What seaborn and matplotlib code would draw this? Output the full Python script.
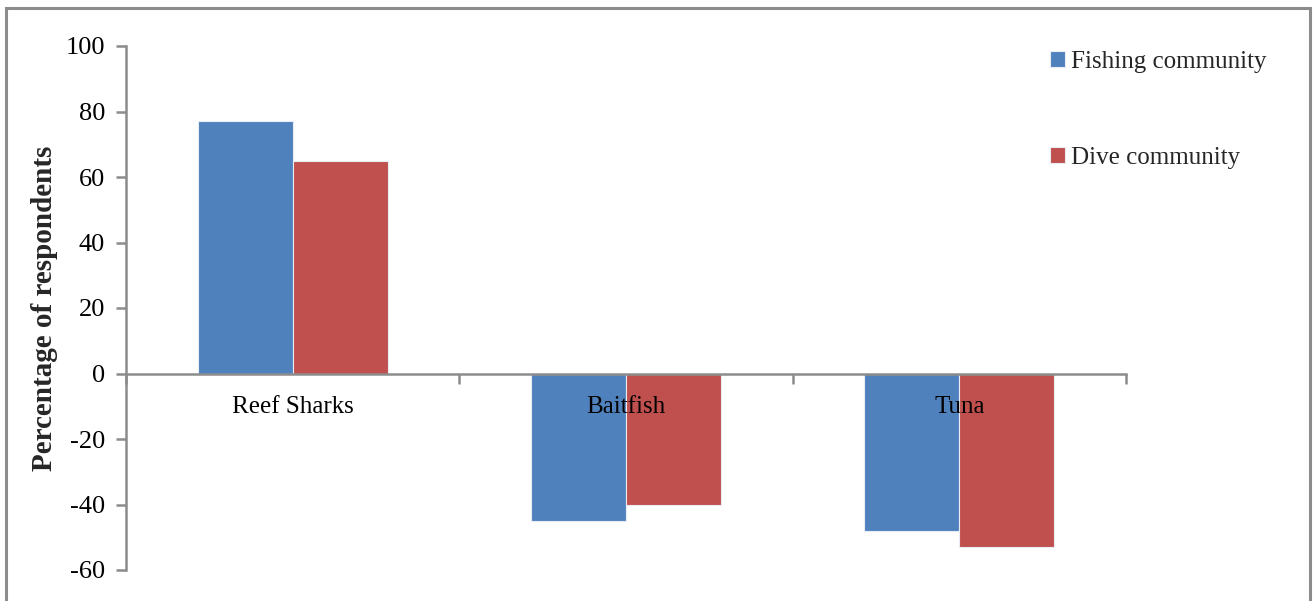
import matplotlib
matplotlib.use("Agg")
import matplotlib.pyplot as plt
from matplotlib.patches import Rectangle
import pandas as pd
import seaborn as sns

categories = ["Reef Sharks", "Baitfish", "Tuna"]
groups = ["Fishing community", "Dive community"]
fishing = [77, -45, -48]
dive = [65, -40, -53]
y_ticks = [-60, -40, -20, 0, 20, 40, 60, 80, 100]

colors = {"Fishing community": "#4F81BD", "Dive community": "#C0504D"}
axis_grey = "#8C8C8C"

df = pd.DataFrame({
    "Species": categories * 2,
    "Group": [groups[0]] * len(categories) + [groups[1]] * len(categories),
    "Percent": fishing + dive,
})

sns.set_theme(style="white")
plt.rcParams["font.family"] = ["Liberation Serif", "DejaVu Serif"]

fig = plt.figure(figsize=(13.16, 6.01), dpi=100)
ax = fig.add_axes([126 / 1316, 1 - 570 / 601, 1000 / 1316, 524 / 601])

sns.barplot(data=df, x="Species", y="Percent", hue="Group", order=categories,
            hue_order=groups, palette=colors, width=0.57, ax=ax,
            edgecolor="#E8ECF4", linewidth=0.8, saturation=1, legend=True)

# axis lines and category labels sit on top of the bars
ax.set_axisbelow(False)

ax.set_xlim(-0.5, len(categories) - 0.5)
ax.set_ylim(-60, 100)
ax.set_yticks(y_ticks)
ax.set_yticklabels([str(v) for v in y_ticks], fontsize=19, color="black")

# category axis crosses at zero, with ticks between categories
for side in ("top", "right"):
    ax.spines[side].set_visible(False)
ax.spines["bottom"].set_position(("data", 0))
for side in ("left", "bottom"):
    ax.spines[side].set_color(axis_grey)
    ax.spines[side].set_linewidth(1.8)
    ax.spines[side].set_zorder(3)

ax.set_xticks(range(len(categories)))
ax.set_xticklabels(categories, fontsize=18, color="black")
ax.tick_params(axis="x", which="major", length=0, pad=16)
ax.set_xticks([i - 0.5 for i in range(len(categories) + 1)], minor=True)
ax.tick_params(axis="x", which="minor", length=7, width=1.8, color=axis_grey,
               direction="out", bottom=True)
ax.tick_params(axis="y", length=7, width=1.8, color=axis_grey, direction="out",
               left=True, pad=8)

ax.set_xlabel("")
ax.set_ylabel("Percentage of respondents", fontsize=21, fontweight="bold")
ax.yaxis.set_label_coords(-68 / 1000, 0.5)

handles, labels = ax.get_legend_handles_labels()
ax.legend(handles, labels, loc="upper left",
          bbox_to_anchor=(1040 / 1316, 1 - 41 / 601),
          bbox_transform=fig.transFigure, frameon=False, fontsize=18,
          handlelength=0.6, handleheight=0.6, handletextpad=0.25,
          labelspacing=2.95, borderaxespad=0)

# outer chart frame
fig.patches.append(Rectangle((6 / 1316, -0.05), 1304 / 1316, 1.05 - 8 / 601,
                             transform=fig.transFigure, fill=False,
                             edgecolor=axis_grey, linewidth=2.2))

fig.savefig("out.png", dpi=100)
